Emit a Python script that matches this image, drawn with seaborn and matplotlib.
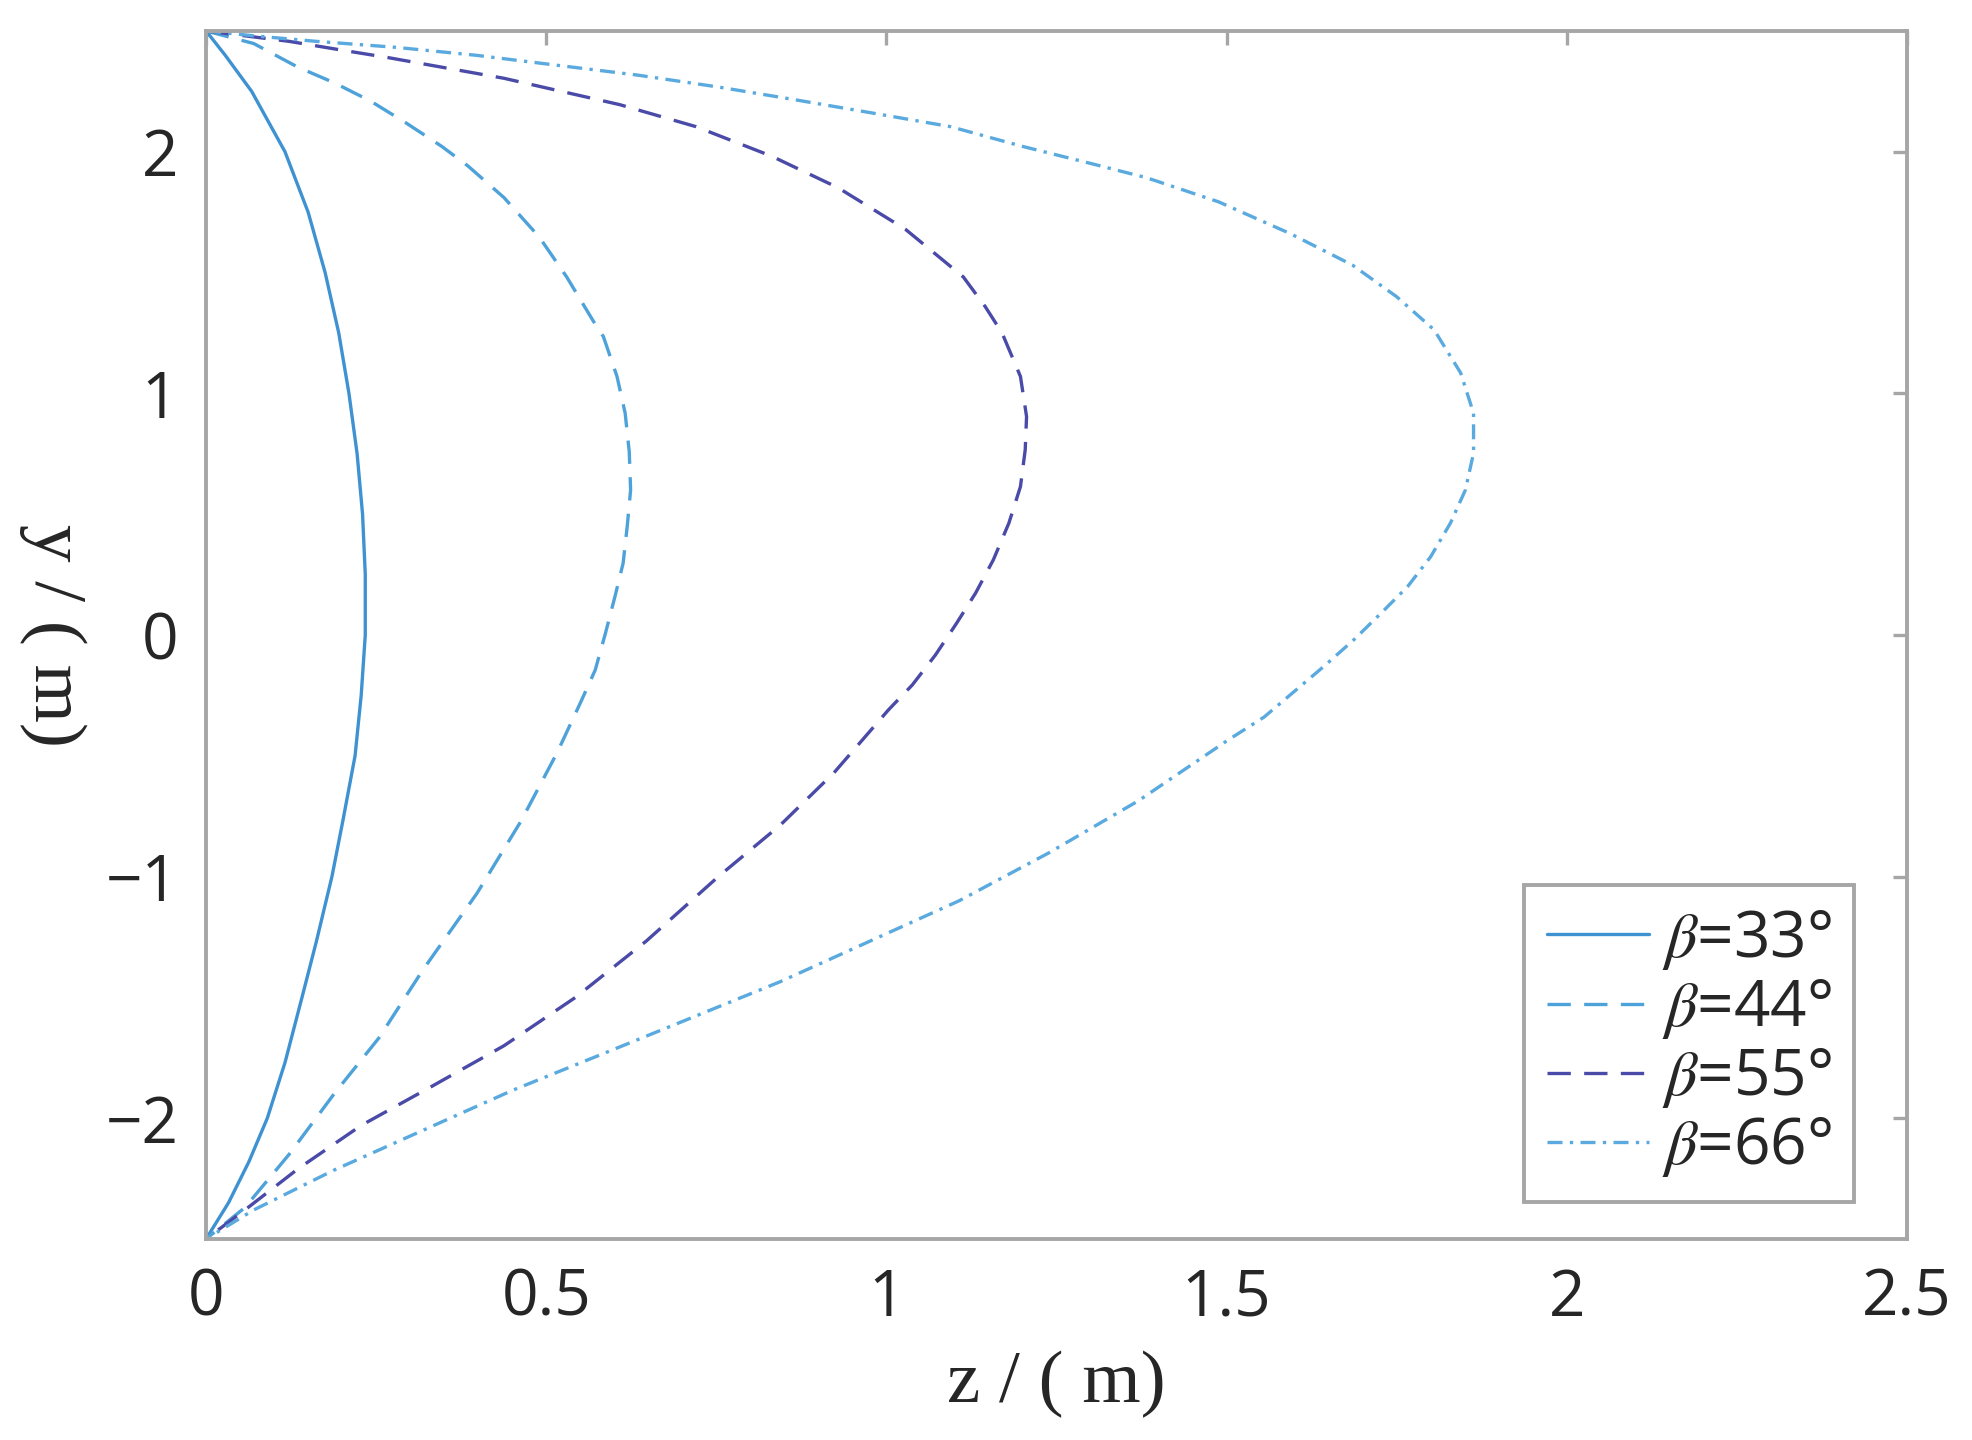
import numpy as np
import pandas as pd
import matplotlib
matplotlib.use("Agg")
import matplotlib.pyplot as plt
import seaborn as sns

# curve data: y (m) and z (m), top to bottom
y_33 = [2.5, 2.4, 2.25, 2.0, 1.75, 1.5, 1.25, 1.0, 0.75, 0.5, 0.25, 0.0, -0.25, -0.5, -0.77, -1.0,
        -1.27, -1.5, -1.77, -2.0, -2.18, -2.35, -2.5]
z_33 = [0.0, 0.028, 0.067, 0.116, 0.15, 0.175, 0.195, 0.21, 0.222, 0.23, 0.234, 0.234, 0.228, 0.219,
        0.201, 0.185, 0.162, 0.141, 0.116, 0.09, 0.063, 0.033, 0.0]

y_44 = [2.5, 2.448, 2.35, 2.286, 2.211, 2.121, 2.023, 1.941, 1.81, 1.646, 1.482, 1.30, 1.235, 1.07,
        0.918, 0.759, 0.60, 0.449, 0.297, 0.159, 0.007, -0.145, -0.282, -0.487, -0.77, -1.07,
        -1.385, -1.668, -1.90, -2.15, -2.37, -2.5]
z_44 = [0.0, 0.07, 0.135, 0.188, 0.241, 0.293, 0.346, 0.385, 0.438, 0.49, 0.53, 0.569, 0.584, 0.604,
        0.616, 0.622, 0.624, 0.619, 0.613, 0.601, 0.587, 0.572, 0.55, 0.516, 0.463, 0.398,
        0.319, 0.254, 0.188, 0.122, 0.057, 0.0]

y_55 = [2.5, 2.457, 2.42, 2.39, 2.304, 2.195, 2.104, 1.982, 1.851, 1.679, 1.482, 1.36, 1.25, 1.07, 0.904,
        0.766, 0.614, 0.463, 0.31, 0.173, 0.048, -0.083, -0.207, -0.31, -0.57, -0.787, -1.0,
        -1.267, -1.50, -1.70, -1.868, -2.03, -2.21, -2.38, -2.5]
z_55 = [0.0, 0.122, 0.201, 0.267, 0.438, 0.608, 0.72, 0.831, 0.929, 1.028, 1.113, 1.145, 1.17, 1.197, 1.206,
        1.204, 1.197, 1.18, 1.157, 1.131, 1.103, 1.072, 1.038, 1.003, 0.923, 0.844, 0.753,
        0.647, 0.543, 0.438, 0.332, 0.228, 0.135, 0.057, 0.0]

y_66 = [2.5, 2.48, 2.457, 2.432, 2.399, 2.358, 2.317, 2.268, 2.219, 2.162, 2.104, 2.023, 1.949, 1.892,
        1.793, 1.662, 1.531, 1.40, 1.263, 1.085, 0.918, 0.753, 0.60, 0.463, 0.324, 0.20, 0.09,
        -0.02, -0.13, -0.235, -0.34, -0.437, -0.687, -0.903, -1.10, -1.267, -1.435, -1.585,
        -1.735, -1.884, -2.05, -2.215, -2.38, -2.5]
z_66 = [0.0, 0.07, 0.162, 0.28, 0.398, 0.516, 0.635, 0.753, 0.858, 0.976, 1.094, 1.199, 1.304, 1.383,
        1.488, 1.593, 1.685, 1.75, 1.805, 1.844, 1.863, 1.863, 1.851, 1.829, 1.80, 1.766, 1.727,
        1.687, 1.643, 1.599, 1.555, 1.501, 1.37, 1.238, 1.107, 0.976, 0.844, 0.713,
        0.582, 0.451, 0.319, 0.188, 0.07, 0.0]

labels = ["33°", "44°", "55°", "66°"]
x_ticks = [0, 0.5, 1, 1.5, 2, 2.5]
x_tick_labels = ["0", "0.5", "1", "1.5", "2", "2.5"]
y_ticks = [-2, -1, 0, 1, 2]

sns.set_style("white")
plt.rcParams["font.family"] = ["Open Sans", "DejaVu Sans"]
plt.rcParams["mathtext.fontset"] = "stix"

fig = plt.figure(figsize=(9.86, 7.2), dpi=200)
ax = fig.add_axes([0.1045, 0.1396, 0.8625, 0.8389])

curves = [(z_33, y_33), (z_44, y_44), (z_55, y_55), (z_66, y_66)]
colors = ["#3f92d2", "#4ea2da", "#4a4aa8", "#5aaadf"]
styles = ["-", (0, (7, 4)), (0, (7, 4)), (0, (4.5, 2.2, 1, 2.2))]

for (zz, yy), lab, c, ls in zip(curves, labels, colors, styles):
    df = pd.DataFrame({"z": zz, "y": yy})
    sns.lineplot(data=df, x="z", y="y", sort=False, estimator=None, ax=ax,
                 color=c, linestyle=ls, linewidth=1.2, label=r"$\beta$=" + lab)

ax.set_xlim(0, 2.5)
ax.set_ylim(-2.5, 2.5)
ax.set_xticks(x_ticks)
ax.set_xticklabels(x_tick_labels)
ax.set_yticks(y_ticks)

for s in ax.spines.values():
    s.set_color("#a6a6a6")
    s.set_linewidth(1.4)
ax.tick_params(direction="in", length=5, width=1.2, color="#a6a6a6",
               top=True, right=True, labelsize=23, labelcolor="#262626", pad=10)

ax.set_xlabel("z / ( m)", family=["Liberation Serif", "DejaVu Serif"], fontsize=27,
              color="#262626", labelpad=7)
ax.set_ylabel("y / ( m)", family=["Liberation Serif", "DejaVu Serif"], fontsize=27,
              color="#262626", rotation=270)
ax.yaxis.set_label_coords(-0.11, 0.5)

leg = ax.legend(loc="lower right", bbox_to_anchor=(0.969, 0.031), borderaxespad=0,
                fontsize=23, handlelength=1.6, handletextpad=0.2, labelspacing=0.08,
                borderpad=0.35, fancybox=False, framealpha=1)
leg.get_frame().set_edgecolor("#a6a6a6")
leg.get_frame().set_linewidth(1.4)
for t in leg.get_texts():
    t.set_color("#262626")

fig.savefig("out.png", dpi=200, facecolor="white")
